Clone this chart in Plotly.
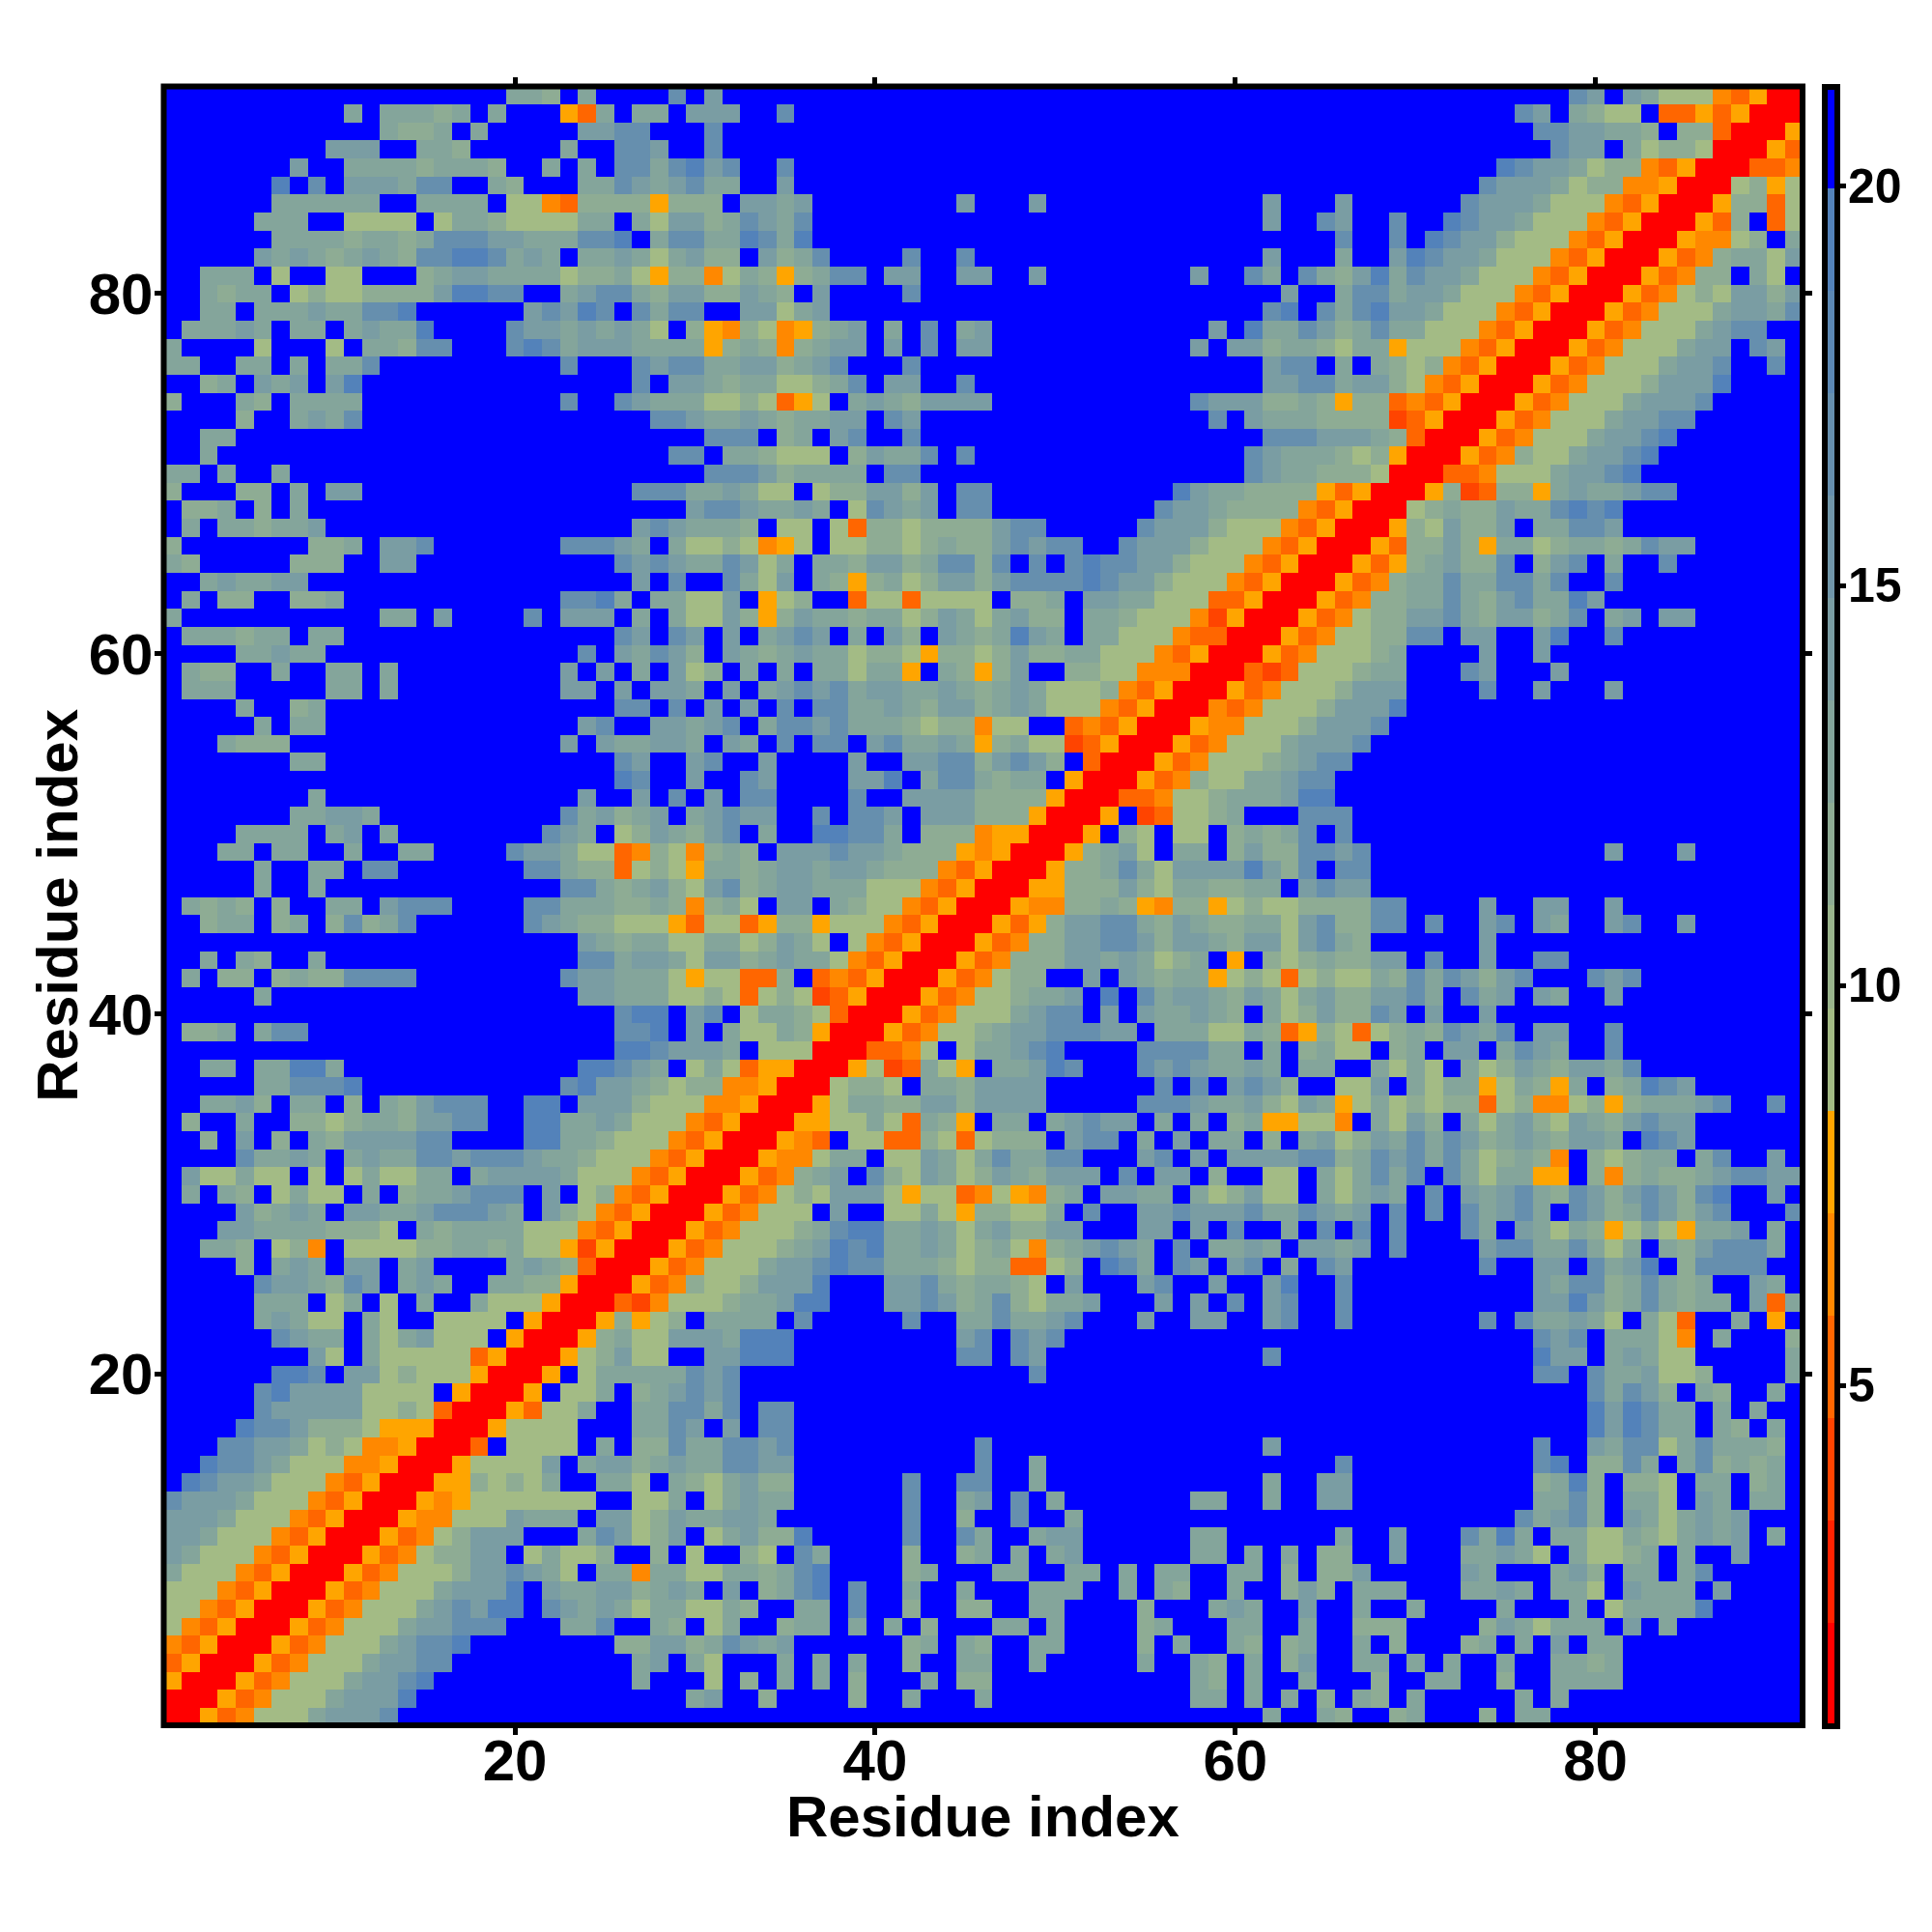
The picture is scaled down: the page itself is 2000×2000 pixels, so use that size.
import re
import plotly.graph_objects as go

# Residue contact distances. Symmetric map: each row below holds
# residues x = 1 .. y-1 for one y, from y = 91 downwards, as run-length coded letters.
# '.' = beyond cutoff; a..f = far distances; O D H q r R = close distances.
LETTER_VALUES = {
    ".": 20.6, "f": 19.3, "e": 16.8, "d": 14.2, "c": 12.9, "b": 11.6, "a": 9.07,
    "O": 7.79, "D": 6.51, "H": 5.23, "q": 3.95, "r": 2.66, "R": 1.38,
}
ROWS = [
    "19.ccb.c4.e. d29. 18.ed.dcaaaDHOR",
    "10.c.cccbc.c3.OHc.cc.d dd2.e25. 15.ed.cbaa.HHOHOR",
    "12.cbbc.c5.ddee3. e29. 16.eeddccb.bbHR",
    "9.ddd2.ccb5.c2.eed2. e29. 17.edd.cabbaR",
    "7.d2.ccccbcccb2.c.c.eecef de2.e25. 14.feddcabbDHOR",
    "6.f.e.dddcee2.cb3.ccedcde cc2.d25. 13.edddcabbDDOR",
    "6.cccccc2.cccc.aaDHbbbbObb b.ddcd8.d3.d11. .d3.d6.edddcaaaDHOR",
    "5.ccc2.aaaa.accbaaaacc.cadd bcedce24. .d2.ed2.e2.feddcaaaDHOR",
    "6.ccccbccbceeeddccceef.cee ccfecf24. 5.e2.e.feddbaaaDHOR",
    "5.dcdcbcdcbeeffecdc.ccdcacd bb.dbce4.e2.e15. .d3.c2.dfeddcaaaDHOR",
    "2.ccc.a2.aa3.bcddccccabbcaObb DacbObcee.dd2.dd2.d8.d2. ec.ecbdfceddcaaaDHOR",
    "2.cbcc.abaabbbbdffee2.cdeecbdd bbdcb.d4.e18. 2.d2.ceecddcaaaDHOR",
    "2.cc.cccdcceef6.dedfe.ecee 2.ddacd23. .ef.ecefddcaaaDHOR",
    ".cccdc.cc.cdccf4.eddcdcdca.b ODbaDObcd.c.e.cd12.d. fccedbceccaaaDHOR",
    "c4.a3.a.ccbee3.efecdddcccc ObcbDbcdd.d.e.dd11.d.d dbccbaccOaaaDHOR",
    "cc2.cc.c.cce10.e3.edee ccddbcde3.e18. .dee.c.cbabDHOR",
    "2.bc.dcd.df15.e.dd cbccaabce.dd2.e15. .ddeecddbaDHOR",
    "b3.cb.cccc11.e2.edccc aabaHOa.cdcbdddd11.edd dbbcbObbHDHOR",
    "4.b2.cdce16.eed ccdcbccdd.ed16.e. dcccbbbbqHOR",
    "2.cc26. eee.bc.de2.e18. .eeedddcbHR",
    "2.c25.ee .ccbaaa.bdcce.e15. edcccbabOR",
    "cc.c2.c23. eeedbcccc.ee18. edccbbbaR",
    "b3.bb.c.dd15.eeec cdcaa.abbddbd.ee10.fdcc bbbbOHOR",
    ".bbc.b.c21.d eedccdc.aedcd.ee9.eddcb bbbDHOR",
    ".c.ccbccd17.dedc ccb.aa.aHbbabbbbdee5.edddba aaDHOR",
    "b7.bbc.dde7.eeedc.ca abaDOa.aabbabcbbdedee2.edddbaa aDHOR",
    "cb5.bbb2.dd11.ededc cedac.ccbddbceebe.e.efeeddbaaa DHOR",
    "2.cdccdd18.d.e. .ecad.cbObcabddbdeeeefeddbaaaD HOR",
    ".c.bb2.bbc12.eefc.cca ad.Oab2.HaaHaaaa.bbc.ddccaaaHH OR",
    "c11.cc.d4.e.ddd.c.ca adbObdccbccabdcacdbb.ccbaaaDqO R",
    ".cccbcc.cc15.ed.ed .d.cded.c.db.dcbcfdc.ccaaaDHHR",
    "4.ccdcc14.e.dcedb .dcbcdccabbaObbabdbbccaaaDHOR",
    ".cbb2.c2.cc.c9.d.d.c.da b.c.c.ccaccO.cbObd2.bbaaDDDR",
    ".ccc5.cc.c9.dd.d.ddc .d.cdedecddccdcbcdcaaabDHOR",
    "4.c2.bc16.ee.e. d.d.e.eeccdcbddbcdcaaaDHOR",
    "5.c.cc14.de2.ddc de.ceedecccbabbDaa2.HDHOR",
    "3.cbbb15.d.dccddc .dc.e.ee.deccdcObcaaqHOR",
    "7.cc16.ed2.d e2.d4.d2.ddeebdedb.HR",
    "25.fe2.d 2.ed4.ddf.ceecbcc.OR",
    "8.c14.d2.d.e. d.ee4.e2.ddddbbbbOR",
    "7.ccddc10.ecdbcd.c dedd2.e.eed.dddbbbOR",
    "4.cccc.cd.c8.edc.abdcb de.c2.ffeec.bbbDOOR",
    "3.cc.cc2.c2.cc4.eddcaaHDbaD bcb.dddeddcbbbODOR",
    "5.c2.cc.ee7.eecbbHabaO ccbcddcddcbbbDHOR",
    "5.c2.c13.eecbcdba debcddcccaaaDHOR",
    ".cbcb.b2.cc.deee4.eecccbbcbD bca.dd.cbaaDHOR",
    "2.bcc.bc.bebce6.edcbbaaaOH aaHObbOaaaDHOR",
    "23.dcbccaa ccabdca.aDHOR",
    "2.c.cb2.c14.eecddca ddbcdccaDHOR",
    ".c.bb.bcbbeeee8.eddcccaO aaHHb.HDHOR",
    "5.c17.ddcccaa baHabaqHOR",
    "25.eff.d e.accbaHR",
    ".bbc.cee17.eef.d .caacbOR",
    "25.ffedd dc.aaaR",
    "2.cc.ccffc13.ffedc.a caHOOR",
    "5.cceeef11.efddcbab bDDOR",
    "2.ccdb.cc.b.cbdeee2.ff.dddbaaa DDOR",
    ".b2.c2.bbabccbddee2.ffccdcaaaD HOR",
    "2.b.d.b.cbddddee4.ffccbaaaDH OR",
    "4.eccdc.cdcceedeeedccbaaaDHO R",
    ".daacaa.a.acaacc.cddddcaaaDHOR",
    ".c.cb.acaa.c.bccdeee.d.abDHOR",
    "4.dbcdc.ddccdeeedc.dbaDHOR",
    "3.ddccccbbba.cbccccaaaDHOR",
    "2.ccb.abD.aaaabbccbcaaOqOR",
    "4.b.cdc.dd.cd4.cdcbHR",
    "5.eddcbed.cdc2.ccbbOR",
    "5.ccc.ac.a.c2.caaaOR",
    "5.cdcaa.ca2.aaaa.OR",
    "6.edcc.cacdaaa.OR",
    "8.da.caaaaaHOR",
    "6.ffe.ddabaaaOR",
    "5.efddddaaaa.OR",
    "5.edddddaabaHR",
    "4.feedbbbaOOOR",
    "3.eeddcabaDDOR",
    "2.feedcaaaDDOR",
    ".feddcaaaDHOR",
    "edddcaaaDHOR",
    "dddcaaaDHOR",
    "ddcaaaDHOR",
    "dcaaaDHOR",
    "caaaDHOR",
    "aaaDHOR",
    "aaDHOR",
    "aDHOR",
    "DHOR",
    "HOR",
    "OR",
    "R",
]
DIAGONAL_LETTER = "R"
RESIDUES = list(range(1, 92))
AXIS_TICKS = [20, 40, 60, 80]
COLORBAR_TICKS = [5, 10, 15, 20]
AXIS_TITLE = "Residue index"
LEVEL_COLORS = [
    "#FF0000", "#FF2200", "#FF4400", "#FF6600", "#FF8800", "#FFA500",
    "#A3BB85", "#99B48C", "#8EAC94", "#84A59B", "#7A9DA3", "#7096A9", "#668FAE", "#5C88B4", "#5382BA",
    "#0000FF",
]
Z_MIN, Z_MAX = 0.74, 21.25


def decode(row):
    out = []
    for count, ch in re.findall(r"(\d*)([^\d\s])", row):
        out.extend([ch] * (int(count) if count else 1))
    return out


n = len(RESIDUES)
z = [[LETTER_VALUES[DIAGONAL_LETTER]] * n for _ in range(n)]
bad = []
for offset, row in enumerate(ROWS):
    y = 91 - offset
    cells = decode(row)
    if len(cells) != y - 1:
        bad.append((y, len(cells)))
        continue
    for x, ch in enumerate(cells, start=1):
        z[y - 1][x - 1] = LETTER_VALUES[ch]
        z[x - 1][y - 1] = LETTER_VALUES[ch]
if bad:
    raise ValueError(f"row length mismatch: {bad}")

m = len(LEVEL_COLORS)
colorscale = []
for i, c in enumerate(LEVEL_COLORS):
    colorscale.append([i / m, c])
    colorscale.append([(i + 1) / m, c])

W = H = 2000
L, R, T, B = 169.5, 1866.0, 89.5, 1786.0
FONT = "Liberation Sans"
TITLE_FONT = dict(family=FONT, size=60, color="black", weight=700)

fig = go.Figure(go.Heatmap(
    x=RESIDUES, y=RESIDUES, z=z, zmin=Z_MIN, zmax=Z_MAX, colorscale=colorscale,
    hoverongaps=False,
    colorbar=dict(
        x=1889 / W, xanchor="left", xpad=0, ypad=0,
        y=(H - T) / H, yanchor="top", lenmode="fraction", len=(B - T) / H,
        thickness=13, thicknessmode="pixels",
        outlinecolor="black", outlinewidth=6, borderwidth=0,
        tickmode="array", tickvals=COLORBAR_TICKS, ticks="outside", ticklen=6,
        tickwidth=5, tickcolor="black", showticklabels=False,
    ),
))
axis_common = dict(
    range=[0.5, 91.5], tickmode="array", tickvals=AXIS_TICKS, ticks="outside",
    ticklen=9, tickwidth=5, tickcolor="black", showgrid=False, zeroline=False,
    showline=False, mirror="ticks",
    tickfont=dict(family=FONT, size=60, color="black", weight=700),
)
# colour-bar labels and axis titles sit closer than plotly's own offsets allow
cb_labels = [
    dict(text=str(v), xref="paper", yref="paper", x=1911 / W,
         y=((H - B) + (v - Z_MIN) / (Z_MAX - Z_MIN) * (B - T)) / H,
         xanchor="left", yanchor="middle", showarrow=False,
         font=dict(family=FONT, size=50, color="black", weight=700))
    for v in COLORBAR_TICKS
]
title_labels = [
    dict(text=AXIS_TITLE, xref="paper", yref="paper", x=(L + R) / 2 / W, y=(H - 1880) / H,
         xanchor="center", yanchor="middle", showarrow=False, font=TITLE_FONT),
    dict(text=AXIS_TITLE, xref="paper", yref="paper", x=60 / W, y=(H - (T + B) / 2) / H,
         xanchor="center", yanchor="middle", showarrow=False, textangle=-90, font=TITLE_FONT),
]
fig.update_layout(
    width=W, height=H, margin=dict(l=0, r=0, t=0, b=0), autosize=False,
    paper_bgcolor="white", plot_bgcolor="white", showlegend=False,
    xaxis=dict(domain=[L / W, R / W], automargin=False, ticklabelstandoff=-25, **axis_common),
    yaxis=dict(domain=[(H - B) / H, (H - T) / H], automargin=False, ticklabelstandoff=-11, **axis_common),
    shapes=[dict(type="rect", xref="x domain", yref="y domain", layer="above",
                 x0=0, x1=1, y0=0, y1=1, line=dict(color="black", width=6))],
    annotations=cb_labels + title_labels,
)
fig.write_html("out.html", config={"displayModeBar": False},
               post_script="document.body.style.margin='0';")
